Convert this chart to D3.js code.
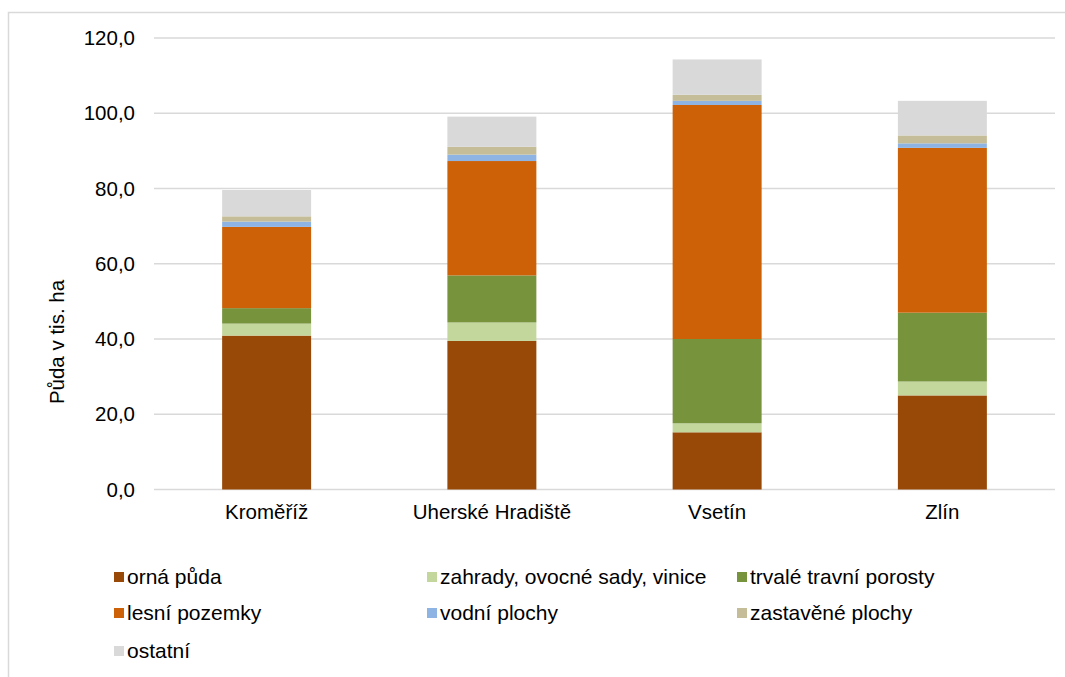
<!DOCTYPE html>
<html><head><meta charset="utf-8">
<script src="https://cdn.jsdelivr.net/npm/d3@7"></script>
<style>body{margin:0;background:#fff;}svg{display:block;font-family:"Liberation Sans",Arial,sans-serif;}</style>
</head><body>
<script>
const categories = ["Kroměříž", "Uherské Hradiště", "Vsetín", "Zlín"];
const seriesNames = ["orná půda", "zahrady, ovocné sady, vinice", "trvalé travní porosty", "lesní pozemky", "vodní plochy", "zastavěné plochy", "ostatní"];
const ornaPuda = [40.9, 39.5, 15.2, 25.0];
const zahrady = [3.2, 4.9, 2.4, 3.7];
const trvaleTravniPorosty = [4.1, 12.5, 22.4, 18.3];
const lesniPozemky = [21.6, 30.4, 62.2, 43.8];
const vodniPlochy = [1.4, 1.7, 1.1, 1.2];
const zastavenePlochy = [1.4, 2.1, 1.6, 2.1];
const ostatni = [7.0, 8.0, 9.4, 9.2];
const yTicks = [0, 20, 40, 60, 80, 100, 120];
const colors = ["#984807", "#C3D69B", "#77933C", "#CC6108", "#8EB4E3", "#C4BD97", "#D9D9D9"];

const seriesValues = [ornaPuda, zahrady, trvaleTravniPorosty, lesniPozemky, vodniPlochy, zastavenePlochy, ostatni];
const keys = seriesNames;
const table = categories.map((c, i) => {
  const row = {cat: c};
  keys.forEach((k, j) => row[k] = seriesValues[j][i]);
  return row;
});
const stacked = d3.stack().keys(keys)(table);

const W = 1065, H = 677;
const FS = 20.5;
const svg = d3.select("body").append("svg").attr("width", W).attr("height", H);
svg.append("rect").attr("x", 8.5).attr("y", 12.5).attr("width", W).attr("height", H)
  .attr("fill", "#fff").attr("stroke", "#d9d9d9").attr("stroke-width", 1.5);

const pLeft = 154, pRight = 1055, pTop = 38, pBottom = 489.5;
const x = d3.scaleBand().domain(categories).range([pLeft, pRight]).padding(0);
const y = d3.scaleLinear().domain([0, 120]).range([pBottom, pTop]);

// gridlines
svg.append("g").selectAll("line").data(yTicks).join("line")
  .attr("x1", pLeft).attr("x2", pRight)
  .attr("y1", d => y(d)).attr("y2", d => y(d))
  .attr("stroke", "#d9d9d9").attr("stroke-width", 1.5);

// y axis labels
const fmt = d => d3.format(".1f")(d).replace(".", ",");
const yAxis = d3.axisLeft(y).tickValues(yTicks).tickFormat(fmt).tickSize(0).tickPadding(0);
const gy = svg.append("g").attr("transform", `translate(135,0)`).call(yAxis);
gy.select(".domain").remove();
gy.attr("font-size", FS).attr("font-family", "Liberation Sans, Arial, sans-serif");
gy.selectAll("text").attr("fill", "#000");

// bars
const barW = x.bandwidth() * 0.395;
svg.append("g").selectAll("g").data(stacked).join("g")
  .attr("fill", (d, i) => colors[i])
  .selectAll("rect").data(d => d).join("rect")
  .attr("x", d => x(d.data.cat) + x.bandwidth() / 2 - barW / 2)
  .attr("width", barW)
  .attr("y", d => y(d[1]))
  .attr("height", d => y(d[0]) - y(d[1]));

// x axis labels
const xAxis = d3.axisBottom(x).tickSize(0).tickPadding(15);
const gx = svg.append("g").attr("transform", `translate(0,${pBottom})`).call(xAxis);
gx.select(".domain").remove();
gx.attr("font-size", FS).attr("font-family", "Liberation Sans, Arial, sans-serif");
gx.selectAll("text").attr("fill", "#000");

// y title
svg.append("text").attr("transform", `translate(64,342) rotate(-90)`)
  .attr("text-anchor", "middle").attr("font-size", FS).text("Půda v tis. ha");

// legend
const legPos = [[114, 577], [427, 577], [737, 577], [114, 613], [427, 613], [737, 613], [114, 651]];
const lg = svg.append("g").selectAll("g").data(seriesNames).join("g")
  .attr("transform", (d, i) => `translate(${legPos[i][0]},${legPos[i][1]})`);
lg.append("rect").attr("x", 0).attr("y", -5).attr("width", 10).attr("height", 10).attr("fill", (d, i) => colors[i]);
lg.append("text").attr("x", 13).attr("y", 7).attr("font-size", 21).text(d => d);
</script>
</body></html>
